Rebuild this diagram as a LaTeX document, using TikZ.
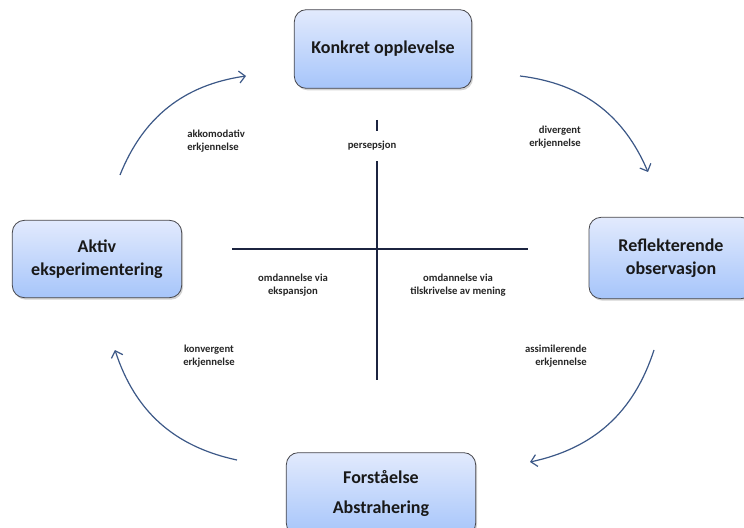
\documentclass[tikz,border=0pt]{standalone}
\usepackage{fontspec}
\setmainfont{Carlito}
\usepackage{tikz}
\usetikzlibrary{positioning,shadows,arrows.meta}

\definecolor{boxtop}{RGB}{226, 234, 253}
\definecolor{boxbottom}{RGB}{166, 197, 250}
\definecolor{boxline}{RGB}{70, 70, 75}
\definecolor{arrowblue}{RGB}{60, 88, 135}
\definecolor{crossline}{RGB}{28, 36, 64}

\begin{document}
\begin{tikzpicture}[
            x=0.75pt, y=-0.75pt,
            >={Straight Barb[length=4.5pt, width=9pt]},
            stagebox/.style={
                rectangle, rounded corners=9pt, draw=boxline, line width=0.6pt,
                top color=boxtop, bottom color=boxbottom,
                drop shadow={opacity=0.35, shadow xshift=1pt, shadow yshift=-1.5pt},
                align=center, font=\fontsize{13.5}{17}\selectfont\bfseries,
                text=black!90, inner sep=0pt
            },
            smalltext/.style={
                inner sep=0pt, font=\fontsize{8}{10}\selectfont\bfseries, text=black!85
            },
            cycle/.style={->, line width=0.9pt, draw=arrowblue, bend left=30},
            axis/.style={line width=0.8pt, draw=crossline},
        ]

            \useasboundingbox (0,0) rectangle (744,528);

            % the four stages
            \node [stagebox, minimum width=133pt, minimum height=59pt] (konkret) at (383,49) {Konkret opplevelse};
            \node [stagebox, minimum width=127pt, minimum height=58pt] (aktiv) at (97,259) {Aktiv\\eksperimentering};
            \node [stagebox, minimum width=123pt, minimum height=61pt] (reflekterende) at (671,258) {Reflekterende\\observasjon};
            \node [stagebox, minimum width=142pt, minimum height=62pt, font=\fontsize{13.5}{22.5}\selectfont\bfseries] (forstaaelse) at (381,494) {Forståelse\\Abstrahering};

            % the cross in the middle
            \coordinate (axis-top)    at (377,120);
            \coordinate (axis-bottom) at (377,380);
            \coordinate (axis-left)   at (232,249);
            \coordinate (axis-right)  at (528,249);
            \draw[axis] (axis-top) -- (axis-bottom);
            \draw[axis] (axis-left) -- (axis-right);
            \node [smalltext, fill=white, inner xsep=2pt, inner ysep=8pt] (persepsjon) at (372,146) {persepsjon};

            % the cycle
            \coordinate (akk-start) at (120,175);
            \coordinate (akk-end)   at (246,76);
            \coordinate (div-start) at (520,76);
            \coordinate (div-end)   at (648,172);
            \coordinate (ass-start) at (654,350);
            \coordinate (ass-end)   at (530,462);
            \coordinate (kon-start) at (237,460);
            \coordinate (kon-end)   at (115,350);
            \draw[cycle] (akk-start) to (akk-end);
            \draw[cycle] (div-start) to (div-end);
            \draw[cycle] (ass-start) to (ass-end);
            \draw[cycle] (kon-start) to (kon-end);

            \node [smalltext, align=left, anchor=west]  (akkomodativ)  at (187,141) {akkomodativ\\erkjennelse};
            \node [smalltext, align=right, anchor=east] (divergent)    at (581,137) {divergent\\erkjennelse};
            \node [smalltext, align=right, anchor=east] (assimilerende) at (587,356) {assimilerende\\erkjennelse};
            \node [smalltext, align=center]             (konvergent)   at (209,356) {konvergent\\erkjennelse};

            \node [smalltext, align=center] (ekspansjon)  at (293,285) {omdannelse via\\ekspansjon};
            \node [smalltext, align=center] (tilskrivelse) at (458,285) {omdannelse via\\tilskrivelse av mening};

        \end{tikzpicture}
\end{document}
